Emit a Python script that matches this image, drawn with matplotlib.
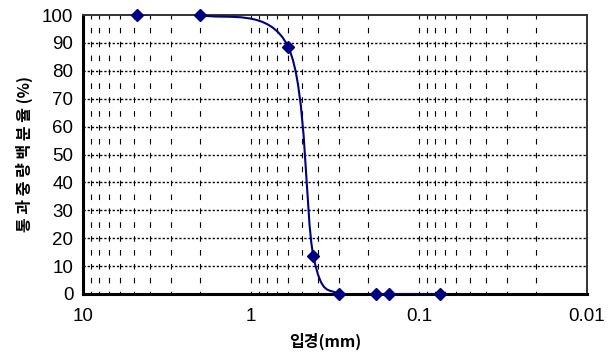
import numpy as np
import matplotlib
matplotlib.use("Agg")
import matplotlib.pyplot as plt
from matplotlib.path import Path
from matplotlib.patches import PathPatch

# ---- data ----
grain_size_mm = [4.75, 2.0, 0.6, 0.425, 0.3, 0.18, 0.15, 0.075]
passing_pct = [100.0, 100.0, 88.5, 13.5, 0.0, 0.0, 0.0, 0.0]
y_ticks = [0, 10, 20, 30, 40, 50, 60, 70, 80, 90, 100]
x_ticks = [10, 1, 0.1, 0.01]
x_tick_labels = ["10", "1", "0.1", "0.01"]
x_label = "입경(mm)"
y_label = "통 과 중 량 백 분 율 (%)"

plt.rcParams['lines.scale_dashes'] = False

fig = plt.figure(figsize=(6.14, 3.54), dpi=100)
ax = fig.add_axes([83/614, 1-294/354, (587-83)/614, (294-15)/354])
ax.set_xscale('log')
ax.set_xlim(10, 0.01)
ax.set_ylim(0, 100)

# grid: horizontal dotted
for yv in y_ticks[1:-1]:
    ax.axhline(yv, color='black', lw=1.0, linestyle=(0, (1.6, 1.4)), zorder=1)
# vertical dashed at minor + inner majors
vx = []
for k in [0, -1, -2]:
    for m in range(1, 10):
        v = m * 10.0**k
        if 0.01 < v < 10:
            vx.append(v)
for v in vx:
    ax.axvline(v, color='black', lw=0.8, linestyle=(2.0, (4.0, 6.0)), zorder=1)

# smooth curve (Excel-like Catmull-Rom bezier in log-x / linear-y space)
lx = np.log10(np.array(grain_size_mm))
ly = np.array(passing_pct)
pts = np.column_stack([lx, ly])
n = len(pts)
verts = [pts[0]]
codes = [Path.MOVETO]
for i in range(n - 1):
    p0 = pts[i - 1] if i > 0 else pts[i]
    p1 = pts[i]
    p2 = pts[i + 1]
    p3 = pts[i + 2] if i + 2 < n else pts[i + 1]
    c1 = p1 + (p2 - p0) / 6.0
    c2 = p2 - (p3 - p1) / 6.0
    verts += [c1, c2, p2]
    codes += [Path.CURVE4] * 3
verts = np.array(verts)
verts[:, 0] = 10.0 ** verts[:, 0]
path = Path(verts, codes)
ax.add_patch(PathPatch(path, facecolor='none', edgecolor='#000080', lw=1.5, zorder=3))

ax.plot(grain_size_mm, passing_pct, linestyle='none', marker='D', markersize=6.5,
        color='#000080', zorder=4, clip_on=False)

ax.set_yticks(y_ticks)
ax.set_xticks(x_ticks)
ax.set_xticklabels(x_tick_labels)
ax.xaxis.set_minor_locator(matplotlib.ticker.NullLocator())
ax.tick_params(length=0, labelsize=13.5)
ax.tick_params(axis='y', pad=7)
ax.tick_params(axis='x', pad=10)
for lab in ax.get_xticklabels() + ax.get_yticklabels():
    lab.set_family('Liberation Sans')

for s in ['left', 'bottom']:
    ax.spines[s].set_linewidth(2.2)
    ax.spines[s].set_color('black')
for s in ['top', 'right']:
    ax.spines[s].set_linewidth(1.4)
    ax.spines[s].set_color('#333333')

ax.set_xlabel(x_label, family=['Noto Sans CJK KR', 'DejaVu Sans'], fontweight='bold', fontsize=11.5)
ax.set_ylabel(y_label, family=['Noto Sans CJK KR', 'DejaVu Sans'], fontweight='bold', fontsize=11.5)
ax.xaxis.set_label_coords((325-83)/504, -(333-294)/279)
ax.yaxis.set_label_coords(-(83-33)/504, 0.5)

fig.savefig('out.png', dpi=100)
